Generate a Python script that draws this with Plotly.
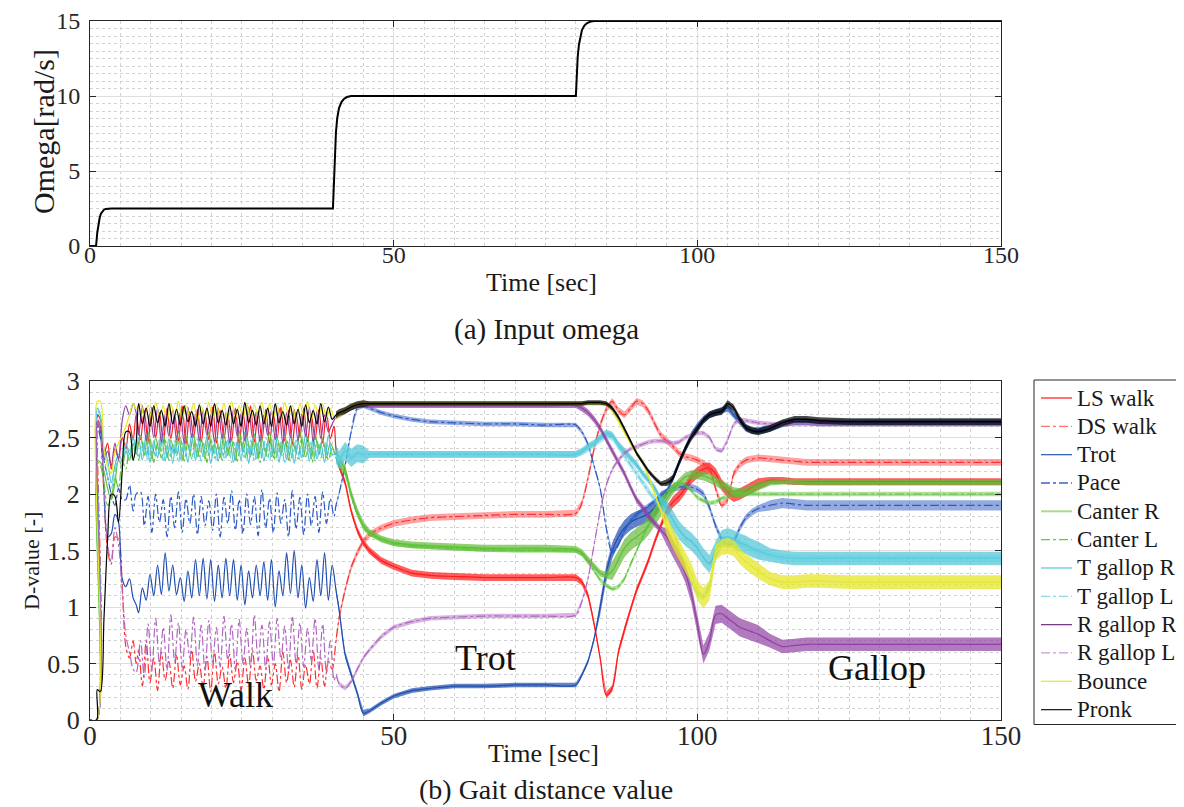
import plotly.graph_objects as go

# ---------------- (a) input omega ----------------
t_omega = [0, 1.0, 1.2, 1.4, 1.6, 1.8, 2.0, 2.3, 2.6, 3.0, 3.5, 40.0, 40.15, 40.3, 40.5, 40.7, 41.0, 41.4,
           41.8, 42.3, 43.0, 80.0, 80.15, 80.3, 80.5, 80.7, 81.0, 81.4, 81.8, 82.3, 83.0, 150.0]
omega = [0, 0, 0.9, 1.5, 1.9, 2.15, 2.3, 2.42, 2.47, 2.49, 2.5, 2.5, 4.5, 6.2, 7.6, 8.5, 9.2, 9.6,
         9.8, 9.93, 10.0, 10.0, 11.5, 12.6, 13.4, 13.9, 14.4, 14.7, 14.85, 14.95, 15.0, 15.0]

# ---------------- (b) gait distance values ----------------
t_start = [0, 1.1, 1.2, 1.7, 2.3, 2.9, 3.5, 4.1, 4.7, 5.3, 5.9, 6.5, 7.1, 7.6]
t_walk_a = [round(8.0 + 0.625 * k, 3) for k in range(52)]
t_walk_b = [round(8.31 + 0.625 * k, 3) for k in range(52)]
t_main = [40.5, 41, 42, 43, 44, 45, 46, 48, 50, 53, 56, 60, 65, 70, 75, 80, 81, 82, 83, 84, 85, 86, 87,
          88, 89, 90, 91, 92, 93, 94, 95, 96, 97, 98, 99, 100, 101, 102, 103, 104, 105, 106, 107, 108,
          109, 110, 112, 114, 116, 118, 120, 125, 130, 140, 150]

# start transients
ls_start = [0, 0, 2.70, 2.66, 2.35, 2.45, 2.22, 2.40, 2.32, 2.50, 2.40, 2.62, 2.48, 2.70]
ds_start = [0, 0, 2.70, 2.55, 2.00, 1.50, 1.38, 1.62, 1.60, 1.20, 0.65, 0.55, 0.70, 0.50]
trot_start = [0, 0, 2.62, 2.55, 2.05, 1.62, 1.65, 1.82, 1.75, 1.25, 1.18, 1.25, 1.08, 1.02]
pace_start = [0, 0, 2.60, 2.50, 2.30, 2.15, 2.00, 1.90, 2.05, 1.95, 1.95, 2.08, 1.85, 2.00]
canr_start = [0, 0, 2.30, 2.28, 2.20, 2.05, 1.95, 2.10, 2.30, 2.25, 2.38, 2.30, 2.45, 2.35]
canl_start = [0, 0, 2.28, 2.25, 2.10, 1.90, 1.95, 2.15, 2.05, 2.30, 2.22, 2.40, 2.30, 2.42]
tgr_start = [0, 0, 2.76, 2.70, 2.40, 2.30, 2.10, 2.25, 2.35, 2.30, 2.45, 2.35, 2.50, 2.40]
tgl_start = [0, 0, 2.74, 2.68, 2.35, 2.15, 2.05, 2.20, 2.30, 2.25, 2.40, 2.30, 2.45, 2.38]
rgr_start = [0, 0, 2.64, 2.60, 2.30, 2.38, 2.25, 2.45, 2.30, 2.65, 2.78, 2.70, 2.80, 2.72]
rgl_start = [0, 0, 2.64, 2.55, 2.05, 1.55, 1.40, 1.70, 1.55, 1.15, 0.75, 0.60, 0.45, 0.42]
bounce_start = [0, 0, 2.82, 2.82, 2.40, 2.25, 2.18, 2.38, 2.45, 2.52, 2.60, 2.70, 2.80, 2.75]
pronk_start = [0, 0, 0.27, 0.25, 0.90, 1.60, 2.00, 1.98, 1.75, 2.20, 2.55, 2.55, 2.30, 2.45]

# walk phase (half-period samples)
ls_walk = [2.48, 2.74, 2.46, 2.77, 2.50, 2.72, 2.45, 2.76, 2.49, 2.70, 2.47, 2.78, 2.44, 2.73, 2.50, 2.75,
           2.46, 2.71, 2.48, 2.77, 2.45, 2.74, 2.49, 2.70, 2.47, 2.76, 2.44, 2.72, 2.50, 2.78, 2.46, 2.73,
           2.48, 2.75, 2.45, 2.71, 2.49, 2.77, 2.47, 2.74, 2.44, 2.72, 2.50, 2.76, 2.46, 2.70, 2.48, 2.75,
           2.45, 2.73, 2.49, 2.60]
ds_walk = [0.62, 0.30, 0.70, 0.33, 0.55, 0.26, 0.60, 0.35, 0.52, 0.28, 0.58, 0.31, 0.48, 0.27, 0.62, 0.34,
           0.50, 0.29, 0.56, 0.25, 0.60, 0.32, 0.47, 0.28, 0.58, 0.33, 0.52, 0.26, 0.55, 0.30, 0.62, 0.35,
           0.48, 0.27, 0.57, 0.31, 0.50, 0.25, 0.60, 0.33, 0.53, 0.29, 0.58, 0.27, 0.49, 0.32, 0.62, 0.28,
           0.55, 0.30, 0.52, 0.45]
trot_walk = [0.95, 1.17, 1.06, 1.29, 1.10, 1.37, 1.11, 1.48, 1.14, 1.37, 1.11, 1.26, 1.05, 1.32, 1.08, 1.42,
             1.10, 1.43, 1.07, 1.42, 1.05, 1.37, 1.08, 1.43, 1.10, 1.42, 1.06, 1.37, 1.02, 1.32, 1.08, 1.37,
             1.10, 1.40, 1.06, 1.42, 1.00, 1.32, 1.10, 1.48, 1.12, 1.50, 1.08, 1.37, 0.99, 1.26, 1.05, 1.42,
             1.10, 1.48, 1.06, 1.37]
pace_walk = [2.02, 1.72, 1.98, 1.66, 2.00, 1.75, 1.95, 1.62, 1.98, 1.70, 2.02, 1.66, 1.96, 1.74, 2.00, 1.64,
             1.98, 1.72, 1.94, 1.68, 2.00, 1.62, 1.97, 1.74, 2.03, 1.68, 1.95, 1.65, 2.00, 1.73, 1.98, 1.63,
             2.04, 1.70, 1.96, 1.66, 2.01, 1.74, 1.95, 1.62, 2.03, 1.69, 1.97, 1.64, 2.00, 1.72, 1.98, 1.66,
             2.02, 1.74, 1.96, 1.80]
canr_walk = [2.52, 2.34, 2.55, 2.31, 2.50, 2.36, 2.54, 2.32, 2.48, 2.35, 2.56, 2.30, 2.51, 2.37, 2.53, 2.33,
             2.49, 2.31, 2.55, 2.36, 2.50, 2.32, 2.54, 2.34, 2.48, 2.30, 2.56, 2.37, 2.51, 2.33, 2.53, 2.31,
             2.49, 2.36, 2.55, 2.32, 2.50, 2.34, 2.54, 2.30, 2.48, 2.37, 2.56, 2.33, 2.51, 2.31, 2.53, 2.36,
             2.49, 2.32, 2.45, 2.38]
canl_walk = [2.30, 2.46, 2.33, 2.49, 2.28, 2.45, 2.32, 2.48, 2.30, 2.44, 2.34, 2.50, 2.29, 2.46, 2.31, 2.47,
             2.33, 2.45, 2.28, 2.49, 2.32, 2.44, 2.30, 2.48, 2.34, 2.46, 2.29, 2.50, 2.31, 2.45, 2.33, 2.47,
             2.28, 2.44, 2.32, 2.49, 2.30, 2.46, 2.34, 2.48, 2.29, 2.45, 2.31, 2.50, 2.33, 2.44, 2.28, 2.47,
             2.32, 2.45, 2.30, 2.40]
tgr_walk = [2.50, 2.30, 2.53, 2.28, 2.47, 2.32, 2.55, 2.29, 2.49, 2.27, 2.52, 2.31, 2.46, 2.28, 2.54, 2.30,
            2.48, 2.33, 2.51, 2.27, 2.45, 2.29, 2.53, 2.32, 2.50, 2.28, 2.47, 2.30, 2.55, 2.27, 2.49, 2.31,
            2.52, 2.29, 2.46, 2.33, 2.54, 2.28, 2.48, 2.30, 2.51, 2.27, 2.47, 2.32, 2.53, 2.29, 2.50, 2.31,
            2.45, 2.28, 2.52, 2.35]
tgl_walk = [2.32, 2.46, 2.29, 2.44, 2.34, 2.48, 2.30, 2.43, 2.33, 2.47, 2.28, 2.45, 2.35, 2.42, 2.31, 2.49,
            2.29, 2.44, 2.34, 2.46, 2.30, 2.43, 2.32, 2.48, 2.28, 2.45, 2.35, 2.42, 2.31, 2.47, 2.29, 2.44,
            2.33, 2.50, 2.30, 2.43, 2.34, 2.46, 2.28, 2.45, 2.32, 2.48, 2.30, 2.42, 2.35, 2.47, 2.29, 2.44,
            2.31, 2.46, 2.33, 2.38]
rgr_walk = [2.52, 2.78, 2.47, 2.72, 2.50, 2.76, 2.46, 2.70, 2.51, 2.75, 2.48, 2.73, 2.45, 2.77, 2.50, 2.71,
            2.47, 2.74, 2.52, 2.70, 2.46, 2.76, 2.49, 2.72, 2.45, 2.75, 2.51, 2.71, 2.47, 2.77, 2.50, 2.73,
            2.46, 2.70, 2.52, 2.74, 2.48, 2.76, 2.45, 2.72, 2.50, 2.75, 2.47, 2.71, 2.51, 2.77, 2.46, 2.73,
            2.49, 2.70, 2.55, 2.62]
rgl_walk = [0.70, 0.38, 0.85, 0.45, 0.90, 0.50, 0.82, 0.44, 0.93, 0.52, 0.86, 0.46, 0.80, 0.55, 0.91, 0.48,
            0.84, 0.43, 0.88, 0.51, 0.82, 0.47, 0.92, 0.53, 0.85, 0.44, 0.89, 0.50, 0.81, 0.46, 0.93, 0.52,
            0.84, 0.45, 0.87, 0.49, 0.90, 0.54, 0.83, 0.44, 0.92, 0.50, 0.86, 0.47, 0.81, 0.53, 0.90, 0.45,
            0.85, 0.42, 0.70, 0.35]
bounce_walk = [2.80, 2.68, 2.79, 2.66, 2.81, 2.69, 2.78, 2.65, 2.80, 2.68, 2.82, 2.66, 2.79, 2.69, 2.80, 2.65,
               2.78, 2.68, 2.81, 2.66, 2.79, 2.69, 2.80, 2.65, 2.82, 2.67, 2.78, 2.68, 2.80, 2.66, 2.79, 2.69,
               2.81, 2.65, 2.80, 2.68, 2.78, 2.66, 2.81, 2.69, 2.79, 2.65, 2.80, 2.68, 2.82, 2.66, 2.79, 2.69,
               2.80, 2.67, 2.76, 2.68]
pronk_walk = [2.80, 2.62, 2.76, 2.60, 2.78, 2.63, 2.74, 2.60, 2.80, 2.62, 2.75, 2.61, 2.78, 2.64, 2.73, 2.60,
              2.79, 2.62, 2.76, 2.60, 2.80, 2.63, 2.74, 2.61, 2.78, 2.62, 2.75, 2.60, 2.81, 2.63, 2.74, 2.61,
              2.78, 2.62, 2.76, 2.60, 2.80, 2.63, 2.73, 2.61, 2.78, 2.62, 2.75, 2.60, 2.79, 2.63, 2.74, 2.62,
              2.80, 2.64, 2.77, 2.66]

# trot / gallop phase: centre of the fast oscillation band
ls_mid = [2.40, 2.25, 2.10, 1.85, 1.68, 1.57, 1.50, 1.41, 1.36, 1.30, 1.28, 1.27, 1.26, 1.26, 1.26, 1.26,
          1.22, 1.10, 0.85, 0.55, 0.22, 0.28, 0.60, 0.80, 0.98, 1.15, 1.28, 1.42, 1.58, 1.72, 1.85, 1.93,
          1.98, 2.05, 2.14, 2.19, 2.22, 2.23, 2.18, 2.08, 2.02, 1.98, 2.00, 2.03, 2.06, 2.09, 2.12, 2.12,
          2.11, 2.11, 2.11, 2.11, 2.11, 2.11, 2.11]
ds_mid = [0.70, 0.90, 1.15, 1.35, 1.48, 1.58, 1.64, 1.70, 1.74, 1.77, 1.79, 1.80, 1.81, 1.82, 1.82, 1.83,
          1.92, 2.14, 2.40, 2.61, 2.75, 2.82, 2.74, 2.70, 2.76, 2.82, 2.80, 2.73, 2.62, 2.52, 2.47, 2.42,
          2.36, 2.33, 2.32, 2.30, 2.27, 2.23, 2.05, 1.90, 1.95, 2.18, 2.26, 2.30, 2.31, 2.32, 2.31, 2.30,
          2.29, 2.28, 2.28, 2.28, 2.28, 2.28, 2.28]
trot_mid = [1.15, 0.98, 0.58, 0.40, 0.24, 0.06, 0.08, 0.15, 0.21, 0.26, 0.28, 0.30, 0.30, 0.31, 0.31, 0.31,
            0.40, 0.52, 0.72, 1.00, 1.30, 1.50, 1.62, 1.70, 1.75, 1.78, 1.80, 1.83, 1.88, 1.95, 2.02, 2.15,
            2.28, 2.40, 2.52, 2.60, 2.66, 2.70, 2.72, 2.74, 2.76, 2.70, 2.64, 2.58, 2.56, 2.56, 2.58, 2.62,
            2.64, 2.64, 2.63, 2.63, 2.63, 2.63, 2.63]
pace_mid = [1.90, 2.00, 2.25, 2.55, 2.76, 2.78, 2.76, 2.72, 2.69, 2.66, 2.64, 2.63, 2.62, 2.62, 2.61, 2.61,
            2.55, 2.44, 2.25, 2.05, 1.70, 1.48, 1.55, 1.68, 1.76, 1.82, 1.86, 1.90, 1.94, 1.98, 2.02, 2.05,
            2.06, 2.07, 2.06, 2.04, 2.00, 1.88, 1.72, 1.60, 1.55, 1.58, 1.70, 1.79, 1.84, 1.87, 1.90, 1.92,
            1.91, 1.90, 1.90, 1.90, 1.90, 1.90, 1.90]
canr_mid = [2.35, 2.30, 2.22, 2.00, 1.84, 1.72, 1.66, 1.60, 1.57, 1.55, 1.54, 1.53, 1.52, 1.52, 1.52, 1.51,
            1.48, 1.42, 1.36, 1.30, 1.28, 1.32, 1.42, 1.52, 1.58, 1.62, 1.66, 1.72, 1.80, 1.88, 1.96, 2.04,
            2.10, 2.15, 2.17, 2.17, 2.16, 2.14, 2.11, 2.08, 2.05, 2.02, 2.01, 2.02, 2.04, 2.07, 2.10, 2.11,
            2.11, 2.10, 2.10, 2.10, 2.10, 2.10, 2.10]
canl_mid = [2.32, 2.25, 2.18, 1.98, 1.82, 1.72, 1.65, 1.60, 1.56, 1.54, 1.53, 1.52, 1.51, 1.50, 1.50, 1.50,
            1.47, 1.40, 1.32, 1.24, 1.19, 1.16, 1.18, 1.25, 1.38, 1.50, 1.62, 1.74, 1.86, 1.95, 2.02, 2.08,
            2.10, 2.08, 2.03, 1.97, 1.94, 1.92, 1.93, 1.96, 1.98, 1.99, 2.00, 2.00, 2.00, 2.00, 2.00, 2.00,
            2.00, 2.00, 2.00, 2.00, 2.00, 2.00, 2.00]
tgr_mid = [2.35, 2.30, 2.38, 2.32, 2.36, 2.35, 2.35, 2.35, 2.35, 2.35, 2.35, 2.35, 2.35, 2.35, 2.35, 2.35,
           2.38, 2.42, 2.45, 2.50, 2.54, 2.52, 2.44, 2.38, 2.32, 2.26, 2.18, 2.12, 2.05, 1.95, 1.86, 1.77,
           1.68, 1.62, 1.58, 1.52, 1.44, 1.38, 1.50, 1.60, 1.62, 1.60, 1.57, 1.55, 1.52, 1.50, 1.46, 1.44,
           1.43, 1.43, 1.43, 1.43, 1.43, 1.43, 1.43]
tgl_mid = [2.35, 2.30, 2.38, 2.32, 2.36, 2.35, 2.35, 2.35, 2.35, 2.35, 2.35, 2.35, 2.35, 2.35, 2.35, 2.35,
           2.37, 2.40, 2.44, 2.48, 2.52, 2.50, 2.42, 2.34, 2.26, 2.18, 2.10, 2.02, 1.95, 1.88, 1.80, 1.68,
           1.52, 1.35, 1.22, 1.12, 1.09, 1.20, 1.45, 1.58, 1.60, 1.58, 1.56, 1.54, 1.51, 1.49, 1.46, 1.44,
           1.43, 1.43, 1.43, 1.43, 1.43, 1.43, 1.43]
rgr_mid = [2.68, 2.70, 2.73, 2.76, 2.78, 2.78, 2.78, 2.78, 2.78, 2.78, 2.78, 2.78, 2.78, 2.78, 2.78, 2.78,
           2.76, 2.72, 2.66, 2.58, 2.48, 2.38, 2.28, 2.18, 2.06, 1.95, 1.88, 1.80, 1.74, 1.68, 1.62, 1.52,
           1.42, 1.30, 1.12, 0.85, 0.58, 0.70, 0.93, 0.94, 0.90, 0.86, 0.82, 0.80, 0.78, 0.76, 0.70, 0.65,
           0.66, 0.67, 0.67, 0.67, 0.67, 0.67, 0.67]
rgl_mid = [0.40, 0.32, 0.28, 0.34, 0.45, 0.55, 0.62, 0.74, 0.82, 0.87, 0.90, 0.91, 0.92, 0.92, 0.92, 0.93,
           1.05, 1.25, 1.55, 1.85, 2.08, 2.22, 2.30, 2.36, 2.40, 2.42, 2.44, 2.46, 2.47, 2.47, 2.46, 2.45,
           2.46, 2.50, 2.52, 2.54, 2.54, 2.50, 2.40, 2.38, 2.48, 2.62, 2.66, 2.65, 2.64, 2.63, 2.62, 2.62,
           2.62, 2.62, 2.62, 2.62, 2.62, 2.62, 2.62]
bounce_mid = [2.68, 2.70, 2.74, 2.77, 2.79, 2.80, 2.80, 2.80, 2.80, 2.80, 2.80, 2.80, 2.80, 2.80, 2.80, 2.80,
              2.80, 2.80, 2.80, 2.80, 2.80, 2.74, 2.65, 2.55, 2.45, 2.36, 2.28, 2.15, 2.00, 1.85, 1.72, 1.60,
              1.50, 1.40, 1.30, 1.15, 1.08, 1.15, 1.48, 1.53, 1.54, 1.52, 1.45, 1.40, 1.36, 1.32, 1.25, 1.22,
              1.22, 1.23, 1.23, 1.22, 1.22, 1.22, 1.22]
pronk_mid = [2.70, 2.72, 2.74, 2.77, 2.79, 2.80, 2.80, 2.80, 2.80, 2.80, 2.80, 2.80, 2.80, 2.80, 2.80, 2.80,
             2.80, 2.81, 2.81, 2.81, 2.80, 2.76, 2.68, 2.58, 2.47, 2.36, 2.28, 2.20, 2.14, 2.09, 2.10, 2.14,
             2.28, 2.40, 2.50, 2.57, 2.65, 2.70, 2.72, 2.73, 2.80, 2.76, 2.66, 2.59, 2.56, 2.55, 2.58, 2.63,
             2.66, 2.66, 2.65, 2.64, 2.64, 2.64, 2.64]

# half-height of the fast oscillation band
ls_band = [0.03] * 30 + [0.05] * 16 + [0.03] * 9
ds_band = [0.03] * 55
trot_band = [0.03] * 6 + [0.02] * 13 + [0.07] * 11 + [0.03] * 25
pace_band = [0.02] * 30 + [0.03] * 16 + [0.045] * 9
canr_band = [0.04] * 6 + [0.03] * 15 + [0.08] * 9 + [0.04] * 16 + [0.025] * 9
canl_band = [0.02] * 55
tgr_band = [0.08] * 6 + [0.03] * 24 + [0.08] * 16 + [0.06] * 9
tgl_band = [0.03] * 55
rgr_band = [0.02] * 16 + [0.03] * 14 + [0.08] * 16 + [0.06] * 9
rgl_band = [0.02] * 55
bounce_band = [0.02] * 30 + [0.09] * 8 + [0.07] * 8 + [0.06] * 9
pronk_band = [0.03] * 6 + [0.02] * 24 + [0.03] * 25

series = [
    ("LS walk", ls_start, ls_walk, "b", ls_mid, ls_band, "#ff1a1a", "solid", 0.7),
    ("DS walk", ds_start, ds_walk, "a", ds_mid, ds_band, "#ff3030", "dashdot", 0.45),
    ("Trot", trot_start, trot_walk, "a", trot_mid, trot_band, "#1f4fb0", "solid", 0.7),
    ("Pace", pace_start, pace_walk, "b", pace_mid, pace_band, "#2a58c4", "dashdot", 0.5),
    ("Canter R", canr_start, canr_walk, "b", canr_mid, canr_band, "#64bb3a", "solid", 0.7),
    ("Canter L", canl_start, canl_walk, "a", canl_mid, canl_band, "#5cc636", "dashdot", 0.5),
    ("T gallop R", tgr_start, tgr_walk, "a", tgr_mid, tgr_band, "#4cc4d6", "solid", 0.7),
    ("T gallop L", tgl_start, tgl_walk, "b", tgl_mid, tgl_band, "#62d0e2", "dashdot", 0.45),
    ("R gallop R", rgr_start, rgr_walk, "a", rgr_mid, rgr_band, "#9040a2", "solid", 0.7),
    ("R gallop L", rgl_start, rgl_walk, "b", rgl_mid, rgl_band, "#b068c2", "dashdot", 0.5),
    ("Bounce", bounce_start, bounce_walk, "b", bounce_mid, bounce_band, "#e6e62a", "solid", 0.75),
    ("Pronk", pronk_start, pronk_walk, "a", pronk_mid, pronk_band, "#000000", "solid", 0.7),
]
legend_colors = ["#ff2a2a", "#ff7070", "#3a64b8", "#3a64c8", "#a8dc8c", "#66cc33", "#5ccfe0", "#8ad8e6",
                 "#7a3a8a", "#c89ad2", "#e8e840", "#222222"]

FONT = '"Liberation Serif", "Times New Roman", Times, "DejaVu Serif", serif'
W, H = 1184, 807


def rgba(hexc, a):
    h = hexc.lstrip("#")
    return "rgba(%d,%d,%d,%.2f)" % (int(h[0:2], 16), int(h[2:4], 16), int(h[4:6], 16), a)


def px(x):
    return x / W


def py(y):
    return 1 - y / H


fig = go.Figure()

fig.add_trace(go.Scatter(x=t_omega, y=omega, mode="lines", line=dict(color="black", width=2),
                         showlegend=False, xaxis="x", yaxis="y", hoverinfo="skip"))

for name, st, wk, grid, mid, band, col, dash, alpha in series:
    assert len(st) == len(t_start) and len(wk) == 52 and len(mid) == len(t_main) and len(band) == len(t_main), name
    tw = t_walk_a if grid == "a" else t_walk_b
    upper = [m + b for m, b in zip(mid, band)]
    lower = [m - b for m, b in zip(mid, band)]
    fig.add_trace(go.Scatter(x=t_main + t_main[::-1], y=upper + lower[::-1], fill="toself",
                             fillcolor=rgba(col, alpha), line=dict(width=0), mode="lines",
                             showlegend=False, hoverinfo="skip", xaxis="x2", yaxis="y2"))
    fig.add_trace(go.Scatter(x=t_start + tw + t_main, y=st + wk + mid, mode="lines", name=name,
                             line=dict(color=col, width=1.2, dash=dash, shape="spline", smoothing=0.9),
                             showlegend=False, xaxis="x2", yaxis="y2"))

xdom = [px(82), px(993)]
ydom_a = [py(238), py(13)]
ydom_b = [py(712), py(373)]


def axis(size, standoff, **kw):
    d = dict(showline=True, linecolor="#262626", linewidth=1, mirror="ticks", ticks="inside",
             ticklen=6, tickcolor="#262626", showgrid=True, gridcolor="#dedede", gridwidth=1,
             zeroline=False, automargin=False, ticklabelstandoff=standoff,
             tickfont=dict(family=FONT, size=size, color="#262626"))
    d.update(kw)
    return d


def minor(dt):
    return dict(dtick=dt, showgrid=True, gridcolor="#d2d2d2", griddash="dot", ticks="")


fig.update_layout(
    width=W, height=H, margin=dict(l=0, r=0, t=0, b=0),
    paper_bgcolor="white", plot_bgcolor="white", showlegend=False,
    font=dict(family=FONT, color="#1a1a1a"),
    xaxis=axis(24, -13, domain=xdom, anchor="y", range=[0, 150], dtick=50, tick0=0, minor=minor(5)),
    yaxis=axis(24, 4, domain=ydom_a, anchor="x", range=[0, 15], dtick=5, tick0=0, minor=minor(0.5)),
    xaxis2=axis(27, -8, domain=xdom, anchor="y2", range=[0, 150], dtick=50, tick0=0, minor=minor(5)),
    yaxis2=axis(26, 4, domain=ydom_b, anchor="x2", range=[0, 3], dtick=0.5, tick0=0, minor=minor(0.1)),
)

# axis titles and captions
for txt, x, y, size in [("Time [sec]", 533, 275, 26), ("(a) Input omega", 538, 321, 29),
                        ("Time [sec]", 535, 745, 26), ("(b) Gait distance value", 538, 781, 28)]:
    fig.add_annotation(text=txt, x=px(x), y=py(y), xref="paper", yref="paper", showarrow=False,
                       xanchor="center", yanchor="middle", font=dict(family=FONT, size=size, color="#1a1a1a"))
for txt, x, y, size in [("Omega[rad/s]", 36, 124, 30), ("D-value [-]", 23, 553, 22)]:
    fig.add_annotation(text=txt, x=px(x), y=py(y), xref="paper", yref="paper", showarrow=False,
                       textangle=-90, xanchor="center", yanchor="middle",
                       font=dict(family=FONT, size=size, color="#1a1a1a"))

# phase labels
for txt, tx, vy in [("Walk", 24.0, 0.22), ("Trot", 65.2, 0.55), ("Gallop", 129.6, 0.46)]:
    fig.add_annotation(text=txt, x=tx, y=vy, xref="x2", yref="y2", showarrow=False,
                       xanchor="center", yanchor="middle", font=dict(family=FONT, size=36, color="#111111"))

# legend box
fig.add_shape(type="rect", xref="paper", yref="paper", x0=px(1026), x1=px(1182.5), y0=py(716.5), y1=py(372),
              line=dict(color="#262626", width=1), fillcolor="white", layer="above")
for i, (s, lc) in enumerate(zip(series, legend_colors)):
    yc = 390 + 28.33 * i
    fig.add_shape(type="line", xref="paper", yref="paper", x0=px(1033), x1=px(1064), y0=py(yc), y1=py(yc),
                  line=dict(color=lc, width=2 if s[0] == "Canter R" else 1.3,
                            dash="dashdot" if s[7] == "dashdot" else "solid"), layer="above")
    fig.add_annotation(text=s[0], x=px(1067), y=py(yc), xref="paper", yref="paper", showarrow=False,
                       xanchor="left", yanchor="middle", font=dict(family=FONT, size=23, color="#1a1a1a"))

fig.write_html("out.html")
